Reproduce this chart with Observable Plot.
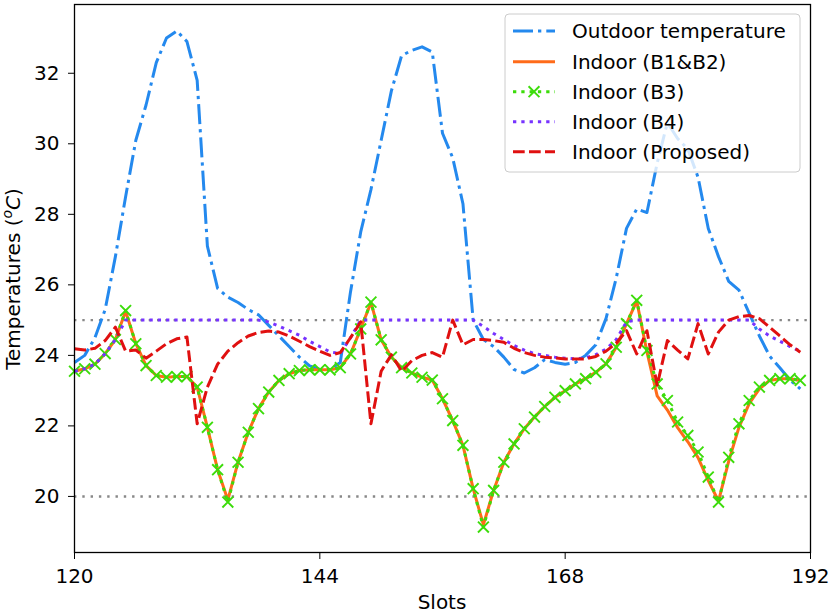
<!DOCTYPE html>
<html><head><meta charset="utf-8">
<script src="https://cdn.jsdelivr.net/npm/d3@7"></script>
<script src="https://cdn.jsdelivr.net/npm/@observablehq/plot@0.6"></script>
<style>body{margin:0;background:#fff;} svg{display:block;overflow:visible}</style>
</head><body><div id="chart"></div>
<script>
// Slots 120..191
const slots = d3.range(120, 192);
const xTicks = [120, 144, 168, 192];
const yTicks = [20, 22, 24, 26, 28, 30, 32];
const comfortBounds = [20, 25];
const seriesNames = ["Outdoor temperature", "Indoor (B1&B2)", "Indoor (B3)", "Indoor (B4)", "Indoor (Proposed)"];

const outdoor = [23.8,24.0,24.5,25.3,26.8,28.5,30.1,31.1,32.3,33.0,33.2,32.9,31.8,27.1,25.9,25.65,25.5,25.3,25.15,24.85,24.55,24.25,23.95,23.7,
  23.6,23.6,23.8,25.8,27.5,28.7,30.1,31.5,32.5,32.65,32.75,32.6,30.3,29.6,28.3,25.0,24.45,24.25,23.95,23.6,23.5,23.65,23.88,23.8,
  23.75,23.8,24.0,24.3,25.05,26.2,27.6,28.15,28.05,29.45,30.6,30.15,29.85,29.05,27.6,26.8,26.1,25.85,25.2,24.55,23.98,23.65,23.3,23.05];

const b12 = [23.55,23.62,23.75,24.05,24.45,25.25,24.33,23.71,23.43,23.38,23.4,23.4,23.1,21.96,20.76,19.9,20.97,21.82,22.49,22.96,23.29,23.48,23.57,23.59,
  23.59,23.59,23.65,24.04,24.75,25.5,24.44,23.95,23.65,23.5,23.38,23.3,22.77,22.15,21.45,20.22,19.2,20.17,20.97,21.49,21.92,22.25,22.55,22.81,
  23.0,23.19,23.34,23.52,23.76,24.23,24.9,25.54,24.1,22.85,22.45,21.95,21.55,21.1,20.45,19.87,21.0,21.96,22.63,23.05,23.29,23.34,23.34,23.29];

const b3 = [23.55,23.62,23.75,24.05,24.45,25.27,24.33,23.71,23.43,23.38,23.4,23.4,23.1,21.96,20.76,19.84,20.97,21.82,22.49,22.96,23.29,23.48,23.57,23.59,
  23.59,23.59,23.65,24.04,24.75,25.51,24.44,23.95,23.65,23.5,23.38,23.3,22.77,22.15,21.45,20.22,19.13,20.17,20.97,21.49,21.92,22.25,22.55,22.81,
  23.0,23.19,23.34,23.52,23.76,24.23,24.9,25.56,24.14,23.19,22.72,22.11,21.73,21.26,20.55,19.84,21.11,22.06,22.72,23.1,23.29,23.34,23.34,23.29];

const b4 = [23.55,23.62,23.75,24.05,24.45,25,25,25,25,25,25,25,25,25,25,25,25,25,25,24.95,24.83,24.7,24.57,24.4,
  24.25,24.1,24.05,24.5,25,25,25,25,25,25,25,25,25,25,25,25,24.82,24.62,24.45,24.28,24.15,24.05,24.0,23.95,
  23.92,23.9,23.93,24.02,24.18,24.45,24.95,25,25,25,25,25,25,25,25,25,25,25,25,24.75,24.55,24.4,24.25,24.12];

const proposed = [24.19,24.15,24.2,24.42,24.8,24.12,24.15,23.92,24.12,24.33,24.47,24.52,22.06,23.1,23.75,24.12,24.36,24.55,24.65,24.69,24.66,24.55,24.4,24.25,
  24.12,24.0,24.08,24.5,24.95,22.06,23.55,24.02,23.55,23.85,24.0,24.08,23.95,25.0,24.3,24.45,24.45,24.42,24.37,24.2,24.08,24.0,23.95,23.93,
  23.9,23.9,23.9,23.97,24.12,24.35,24.7,24.04,24.7,23.15,24.42,24.15,23.9,24.9,24.04,24.66,25.0,25.1,25.13,25.04,24.8,24.55,24.3,24.09];

const colors = ["#2489ee", "#ff6b1a", "#3cdc0a", "#7733ff", "#e01010"];
const dashes = ["20,5,3.3,5", null, "3.3,5", "3.3,5", "11.7,4.3"];

const rows = (arr) => slots.map((s, i) => ({slot: s, value: arr[i]}));

const W = 830, H = 613;
const lineOpts = (arr, k, extra = {}) => Plot.line(rows(arr), {
  x: "slot", y: "value", stroke: colors[k], strokeWidth: 3,
  strokeDasharray: dashes[k] || undefined, strokeLinecap: "butt", strokeLinejoin: "round", ...extra
});

const svg = Plot.plot({
  width: W, height: H,
  marginLeft: 74, marginRight: 20, marginTop: 4, marginBottom: 61,
  style: {fontFamily: "DejaVu Sans", fontSize: "20px", color: "#000", background: "#fff"},
  x: {domain: [120, 192]},
  y: {domain: [18.41, 33.95]},
  marks: [
    Plot.ruleY(comfortBounds, {stroke: "#888", strokeWidth: 2.4, strokeDasharray: "2.4,5.9"}),
    lineOpts(outdoor, 0),
    lineOpts(b12, 1),
    lineOpts(b3, 2),
    Plot.dot(rows(b3), {x: "slot", y: "value", symbol: "times", r: 5, stroke: colors[2], strokeWidth: 1.9}),
    lineOpts(b4, 3),
    lineOpts(proposed, 4),
    Plot.frame({stroke: "#000", strokeWidth: 1.3}),
    Plot.axisX({ticks: xTicks, tickSize: 7, tickPadding: 9, label: null, fontSize: 20, tickFormat: d => String(d)}),
    Plot.axisY({ticks: yTicks, tickSize: 6, tickPadding: 9, label: null, fontSize: 20, tickFormat: d => String(d)})
  ]
});
document.getElementById("chart").appendChild(svg);

const s = d3.select(svg);
// axis labels
s.append("text").attr("x", 442).attr("y", 609).attr("text-anchor", "middle")
  .attr("font-family", "DejaVu Sans").attr("font-size", 20).attr("fill", "#000").text("Slots");
const yl = s.append("text").attr("transform", "translate(19.5,279) rotate(-90)").attr("text-anchor", "middle")
  .attr("font-family", "DejaVu Sans").attr("font-size", 20).attr("fill", "#000");
yl.append("tspan").text("Temperatures (");
yl.append("tspan").attr("font-style", "italic").attr("font-size", 14).attr("dy", -8).text("o");
yl.append("tspan").attr("font-style", "italic").attr("dy", 8).text("C");
yl.append("tspan").text(")");

// legend
const lg = s.append("g").attr("text-anchor", "start");
lg.append("rect").attr("x", 505).attr("y", 14).attr("width", 295).attr("height", 158).attr("rx", 4)
  .attr("fill", "#fff").attr("fill-opacity", 0.8).attr("stroke", "#ccc").attr("stroke-width", 1);
const rowY = [31, 61.7, 91.7, 121.7, 151.7];
seriesNames.forEach((name, k) => {
  const y = rowY[k];
  lg.append("line").attr("x1", 513).attr("x2", 555).attr("y1", y).attr("y2", y)
    .attr("stroke", colors[k]).attr("stroke-width", 3).attr("stroke-dasharray", dashes[k] || null)
    .attr("stroke-linecap", "butt");
  if (k === 2) {
    lg.append("path").attr("d", d3.symbol(d3.symbolTimes, 78.5)())
      .attr("transform", `translate(534,${y})`).attr("fill", "none").attr("stroke", colors[2]).attr("stroke-width", 1.9);
  }
  lg.append("text").attr("x", 572).attr("y", y).attr("dy", "0.35em").attr("text-anchor", "start")
    .attr("font-family", "DejaVu Sans").attr("font-size", 20).attr("fill", "#000").text(name);
});
</script></body></html>
